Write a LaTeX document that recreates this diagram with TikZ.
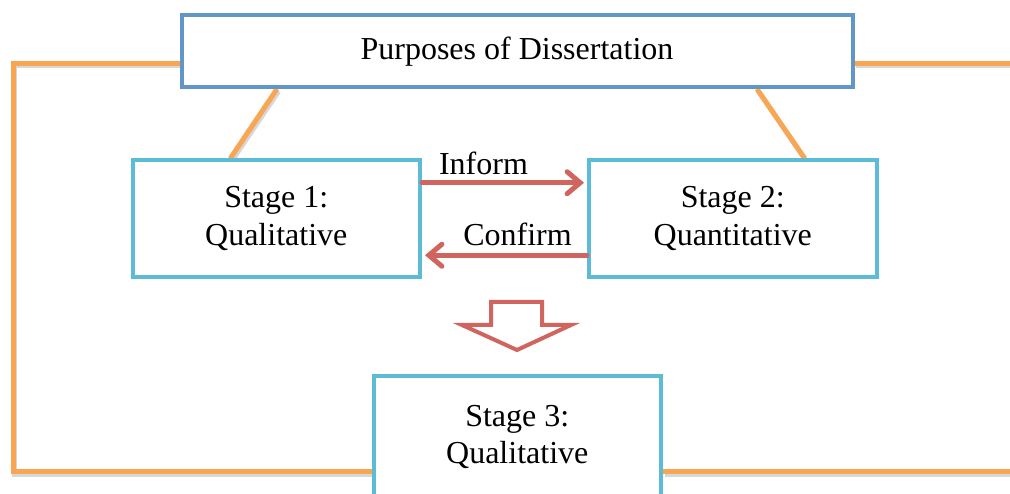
\documentclass[tikz,border=0pt]{standalone}
\usepackage{fontspec}
\setmainfont{Liberation Serif}
\usetikzlibrary{arrows.meta,backgrounds}
\definecolor{topblue}{RGB}{96,150,200}
\definecolor{stagecyan}{RGB}{92,187,213}
\definecolor{linkorange}{RGB}{249,166,84}
\definecolor{arrowred}{RGB}{208,101,96}
\definecolor{shade}{RGB}{215,215,215}
\tikzset{
  box/.style={draw, line width=4pt, fill=white, inner sep=0pt, align=center,
    font=\fontsize{32}{38}\selectfont},
  topbox/.style={box, draw=topblue, minimum width=671pt, minimum height=71.5pt},
  stagebox/.style={box, draw=stagecyan, minimum width=287.5pt, minimum height=116.5pt},
  link/.style={draw=linkorange, line width=5pt,
    preaction={draw=shade, line width=5pt, transform canvas={xshift=1.5pt,yshift=-2.5pt}}},
  flow/.style={draw=arrowred, line width=5pt, line cap=round,
    -{Straight Barb[length=13pt,width=22pt,line cap=round]}},
  lbl/.style={font=\fontsize{32}{38}\selectfont, inner sep=0pt, anchor=base},
  hollow/.style={draw=arrowred, line width=4pt, fill=white, line join=miter}
}
\begin{document}
\begin{tikzpicture}[x=1pt,y=-1pt]
\path[use as bounding box] (0,0) rectangle (1010,494);
% corner coordinates of the orange frame
\coordinate (cTL) at (13,63.5);
\coordinate (cBL) at (13,471.5);
\coordinate (cTR) at (1016,63.5);
\coordinate (cBR) at (1016,471.5);
% boxes
\node[topbox] (top) at (517,51.25) {Purposes of Dissertation};
\node[stagebox] (s1) at (276.25,218.75) {Stage 1:\\Qualitative};
\node[stagebox] (s2) at (732.75,218.75) {Stage 2:\\Quantitative};
\node[stagebox, minimum height=121pt] (s3) at (517.25,437) {Stage 3:\\Qualitative};
% orange links, behind the boxes
\begin{scope}[on background layer]
\draw[link] (top.west |- cTL) -- (cTL) -- (cBL) -- (s3.west |- cBL);
\draw[link] (top.east |- cTR) -- (cTR);
\draw[link] (s3.east |- cBR) -- (cBR);
\draw[link] ([xshift=-240pt]top.south) -- ([xshift=-46pt]s1.north);
\draw[link] ([xshift=240pt]top.south) -- ([xshift=72pt]s2.north);
\end{scope}
% arrows between stages
\draw[flow] ([yshift=36pt]s1.east) -- ([yshift=36pt,xshift=-3pt]s2.west);
\draw[flow] ([yshift=-36.5pt]s2.west) -- ([yshift=-36.5pt,xshift=3pt]s1.east);
\node[lbl] (inform) at (483.5,175) {Inform};
\node[lbl] (confirm) at (517.5,246) {Confirm};
% hollow down arrow
\draw[hollow] (491,302) -- (542,302) -- (542,325) -- (571,325) -- (517,350)
  -- (462,325) -- (491,325) -- cycle;
\end{tikzpicture}
\end{document}
